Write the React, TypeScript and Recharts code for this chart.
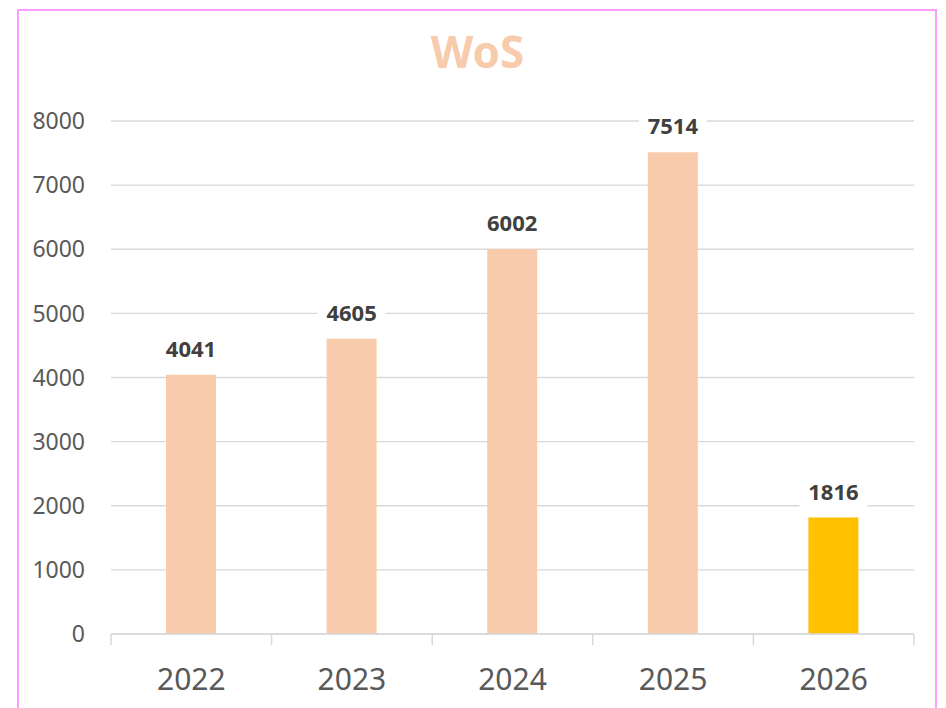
import { BarChart, Bar, XAxis, YAxis, CartesianGrid, Cell, LabelList } from "recharts";

const YEARS = ["2022", "2023", "2024", "2025", "2026"];
const COUNTS = [4041, 4605, 6002, 7514, 1816];
const BAR_COLORS = ["#F8CBAD", "#F8CBAD", "#F8CBAD", "#F8CBAD", "#FFC000"];
const Y_TICKS = [0, 1000, 2000, 3000, 4000, 5000, 6000, 7000, 8000];

const data = YEARS.map((year, i) => ({ year, count: COUNTS[i] }));

const FONT = "'Noto Sans', 'Open Sans', sans-serif";
const PLOT_LEFT = 111;
const PLOT_RIGHT = 914;
const BAND = (PLOT_RIGHT - PLOT_LEFT) / YEARS.length;

function YearTick(props: any) {
  const { x, y, payload, index } = props;
  const last = index === YEARS.length - 1;
  return (
    <g>
      <line x1={x - BAND / 2} x2={x - BAND / 2} y1={y} y2={y + 11} stroke="#D9D9D9" strokeWidth={1.5} />
      {last && <line x1={x + BAND / 2} x2={x + BAND / 2} y1={y} y2={y + 11} stroke="#D9D9D9" strokeWidth={1.5} />}
      <text x={x} y={y + 56} textAnchor="middle" fill="#595959" fontSize={30} fontFamily={FONT}>
        {payload.value}
      </text>
    </g>
  );
}

function ValueLabel(props: any) {
  const { x, y, width, value } = props;
  const cx = x + width / 2;
  const base = y - 18;
  return (
    <g>
      <rect x={cx - 34} y={base - 22} width={68} height={32} fill="#FFFFFF" />
      <text x={cx} y={base} textAnchor="middle" fill="#404040" fontSize={22} fontWeight={700} fontFamily={FONT}>
        {value}
      </text>
    </g>
  );
}

export default function App() {
  return (
    <div style={{ position: "absolute", left: 0, top: 0, width: 946, height: 708, overflow: "hidden", background: "#fff" }}>
      <div
        style={{
          position: "absolute",
          left: 17,
          top: 9,
          width: 916,
          height: 720,
          border: "2px solid #FF9CFF",
        }}
      />
      <div
        style={{
          position: "absolute",
          left: 18,
          top: 29,
          width: 919,
          textAlign: "center",
          fontFamily: FONT,
          fontWeight: 700,
          fontSize: 44,
          lineHeight: "44px",
          color: "#F8CBAD",
        }}
      >
        WoS
      </div>
      <div style={{ position: "absolute", left: 0, top: 0 }}>
        <BarChart width={946} height={708} data={data} margin={{ top: 121, right: 946 - PLOT_RIGHT, left: 0, bottom: 0 }}>
          <CartesianGrid vertical={false} stroke="#D9D9D9" strokeWidth={1.3} />
          <XAxis
            dataKey="year"
            height={74}
            axisLine={{ stroke: "#D9D9D9", strokeWidth: 1.5 }}
            tickLine={false}
            tickSize={0}
            tickMargin={0}
            tick={<YearTick />}
            interval={0}
          />
          <YAxis
            width={PLOT_LEFT}
            domain={[0, 8000]}
            ticks={Y_TICKS}
            axisLine={false}
            tickLine={false}
            tickSize={0}
            tickMargin={26}
            tick={{ fill: "#595959", fontSize: 23, fontFamily: FONT }}
          />
          <Bar dataKey="count" barSize={50} isAnimationActive={false}>
            {data.map((d, i) => (
              <Cell key={d.year} fill={BAR_COLORS[i]} />
            ))}
            <LabelList dataKey="count" content={<ValueLabel />} />
          </Bar>
        </BarChart>
      </div>
    </div>
  );
}
